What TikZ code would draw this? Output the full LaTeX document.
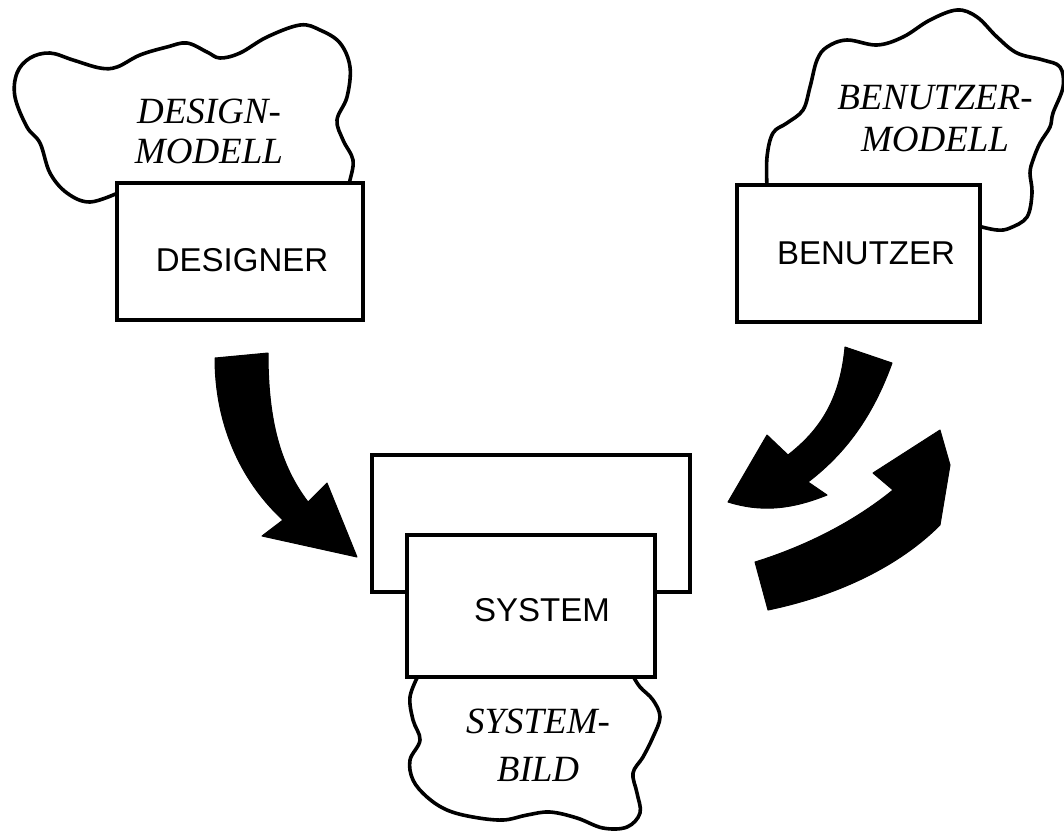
\documentclass[tikz,border=0pt]{standalone}
\usepackage{fontspec}
\setmainfont{Liberation Serif}
\setsansfont{Liberation Sans}
\begin{document}
\begin{tikzpicture}[x=0.5pt,y=-0.5pt,
  cloudline/.style={line width=1.8pt, line join=round, line cap=round},
  boxstyle/.style={draw, line width=1.7pt, fill=white, inner sep=0pt},
  blockarrow/.style={fill=black, draw=black, line width=0.5pt, line join=round},
  modeltext/.style={font=\fontsize{18.5}{#1}\selectfont\itshape, align=center, inner sep=0pt},
  roletext/.style={font=\sffamily\fontsize{16.5}{18}\selectfont, inner sep=0pt}]
\useasboundingbox (0,0) rectangle (1064,832);

% clouds
\draw[cloudline] plot[smooth, tension=0.6] coordinates {
 (120,192) (90,202) (67,193) (50,173) (40,143) (27,127) (15,97) (17,73) (30,58)
 (50,53) (73,60) (100,68) (117,67) (140,55) (167,47) (187,43) (207,52) (220,58)
 (240,53) (267,37) (300,25) (320,30) (340,43) (350,67) (347,97) (337,120)
 (343,140) (353,160) (350,180) (347,190)};
\draw[cloudline] plot[smooth, tension=0.6] coordinates {
 (767,188) (767,157) (773,133) (787,123) (803,110) (810,87) (817,60) (827,47)
 (847,40) (877,45) (903,37) (930,20) (957,10) (977,17) (997,37) (1017,53)
 (1043,60) (1060,67) (1063,87) (1053,113) (1050,127) (1040,143) (1033,160)
 (1030,173) (1032,193) (1027,217) (1010,228) (997,230) (978,226)};
\draw[cloudline] plot[smooth, tension=0.6] coordinates {
 (418,676) (410,697) (413,720) (420,740) (410,760) (413,780) (427,797) (447,810)
 (473,817) (503,820) (527,815) (550,812) (577,818) (603,828) (627,827) (640,813)
 (637,793) (633,773) (643,757) (653,737) (660,717) (653,700) (640,687) (633,676)};

% boxes
\node[boxstyle, minimum width=123pt, minimum height=68.5pt] (designer) at (240,251.5) {};
\node[roletext] (designerlabel) at (242,260) {DESIGNER};
\node[boxstyle, minimum width=121.5pt, minimum height=68.5pt] (benutzer) at (858.5,253.5) {};
\node[roletext] (benutzerlabel) at (866,253) {BENUTZER};
\node[boxstyle, minimum width=159pt, minimum height=68.5pt] (systemback) at (531,523.5) {};
\node[boxstyle, minimum width=124pt, minimum height=71pt] (system) at (531,606) {};
\node[roletext] (systemlabel) at (542,610) {SYSTEM};

% cloud texts
\node[modeltext=20] (designmodell) at (209,131.5) {DESIGN-\\MODELL};
\node[modeltext=21] (benutzermodell) at (935,118.5) {BENUTZER-\\MODELL};
\node[modeltext=24] (systembild) at (538,745.5) {SYSTEM-\\BILD};

% block arrows
\fill[blockarrow] (215,358) .. controls (215,430) and (245,485) .. (283,520)
  -- (262,536) -- (357,557) -- (327,483) -- (308,502)
  .. controls (280,465) and (268,420) .. (268,353) -- cycle;
\fill[blockarrow] (892,363) .. controls (875,410) and (850,450) .. (808,482)
  -- (827,495) .. controls (790,510) and (760,512) .. (728,502)
  -- (767,435) -- (788,455)
  .. controls (820,430) and (840,400) .. (845,347) -- cycle;
\fill[blockarrow] (755,562) .. controls (800,548) and (850,525) .. (893,490)
  -- (873,473) -- (940,430) -- (950,465) -- (940,525)
  .. controls (900,565) and (840,595) .. (768,610) -- cycle;
\end{tikzpicture}
\end{document}
